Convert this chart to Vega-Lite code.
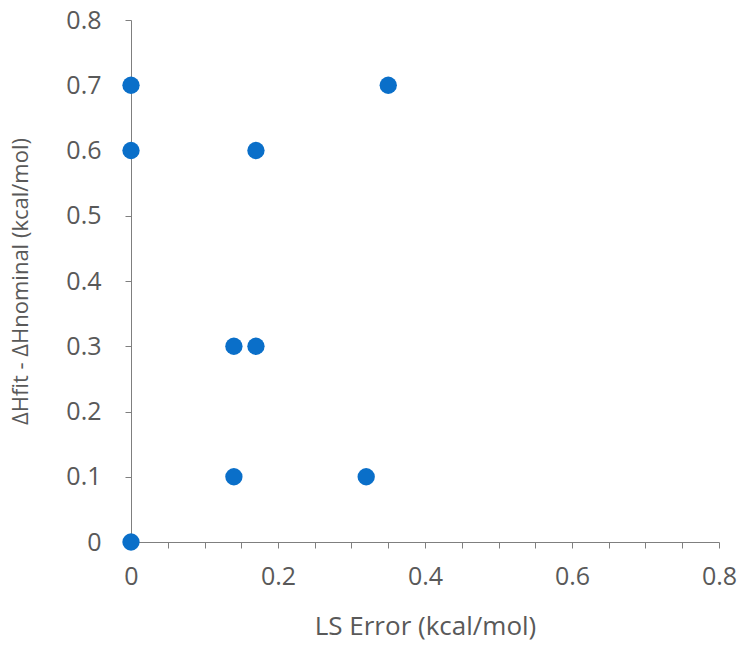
{
  "$schema": "https://vega.github.io/schema/vega-lite/v6.json",
  "width": 588,
  "height": 522,
  "autosize": "none",
  "padding": {"left": 131, "top": 20, "right": 27, "bottom": 107},
  "background": "white",
  "config": {"view": {"stroke": null}, "font": "Open Sans"},
  "data": {"values": [
    {"ls_error": 0.0, "dh": 0.7},
    {"ls_error": 0.0, "dh": 0.6},
    {"ls_error": 0.35, "dh": 0.7},
    {"ls_error": 0.17, "dh": 0.6},
    {"ls_error": 0.14, "dh": 0.3},
    {"ls_error": 0.17, "dh": 0.3},
    {"ls_error": 0.14, "dh": 0.1},
    {"ls_error": 0.32, "dh": 0.1},
    {"ls_error": 0.0, "dh": 0.0}
  ]},
  "mark": {"type": "point", "filled": true, "size": 300, "color": "#0A6FC9", "opacity": 1, "clip": false},
  "encoding": {
    "x": {"field": "ls_error", "type": "quantitative",
      "scale": {"domain": [0, 0.8], "nice": false, "zero": true},
      "axis": {"title": "LS Error (kcal/mol)", "values": [0,0.05,0.1,0.15,0.2,0.25,0.3,0.35,0.4,0.45,0.5,0.55,0.6,0.65,0.7,0.75,0.8],
        "labelExpr": "(datum.value * 100) % 20 < 0.01 || (datum.value * 100) % 20 > 19.99 ? datum.label : ''",
        "format": "~g",
        "grid": false, "domainColor": "#7f7f7f", "tickColor": "#7f7f7f", "tickSize": 6,
        "labelFontSize": 25, "labelColor": "#595959", "labelPadding": 16, "labelFont": "Open Sans",
        "titleFontSize": 26, "titleColor": "#595959", "titleFontWeight": "normal", "titlePadding": 24, "titleFont": "Open Sans", "labelFlush": false}},
    "y": {"field": "dh", "type": "quantitative",
      "scale": {"domain": [0, 0.8], "nice": false},
      "axis": {"title": "ΔHfit - ΔHnominal (kcal/mol)", "values": [0,0.1,0.2,0.3,0.4,0.5,0.6,0.7,0.8], "format": "~g",
        "grid": false, "domainColor": "#7f7f7f", "tickColor": "#7f7f7f", "tickSize": 6,
        "labelFontSize": 25, "labelColor": "#595959", "labelPadding": 24, "labelFont": "Open Sans",
        "titleFontSize": 22, "titleColor": "#595959", "titleFontWeight": "normal", "titlePadding": 33, "titleFont": "Open Sans", "labelFlush": false}}
  }
}
